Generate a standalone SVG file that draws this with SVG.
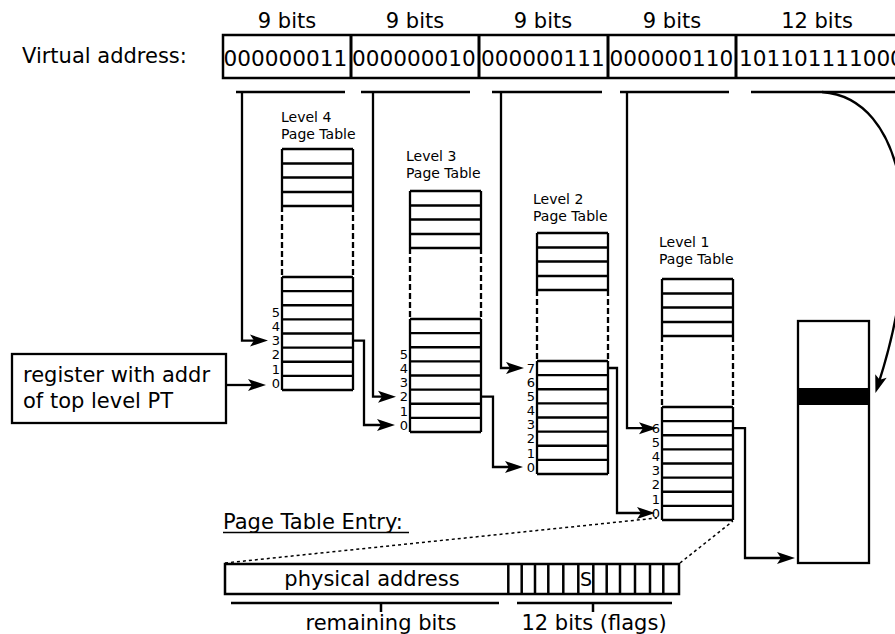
<svg xmlns="http://www.w3.org/2000/svg" width="895" height="634" viewBox="0 0 895 634">
<style>
text{font-family:"DejaVu Sans","Liberation Sans",sans-serif;fill:#000}
.big{font-size:21px}
.bin{font-size:21.6px}
.lbl{font-size:14px}
.num{font-size:13px;text-anchor:end}
.box{fill:#fff;stroke:#000;stroke-width:2.3}
.ln{fill:none;stroke:#000;stroke-width:2.3}
.dsh{fill:none;stroke:#000;stroke-width:2.3;stroke-dasharray:6 3}
.con{fill:none;stroke:#000;stroke-width:2.3}
.arr{marker-end:url(#ah)}
.dot{fill:none;stroke:#000;stroke-width:1.5;stroke-dasharray:3 3}
</style>
<defs>
<marker id="ah" viewBox="-9 -7 20 14" markerWidth="20" markerHeight="14" refX="0" refY="0" orient="auto" markerUnits="userSpaceOnUse">
<path d="M10,0 L-8,-6 L-4,0 L-8,6 Z" fill="#000"/>
</marker>
<g id="tbl">
<rect x="0" y="0" width="71" height="241" fill="#fff" stroke="none"/>
<path class="ln" d="M0,0 H71 M0,14.5 H71 M0,28.5 H71 M0,43 H71 M0,57 H71 M0,128 H71 M0,142.1 H71 M0,156.25 H71 M0,170.4 H71 M0,184.5 H71 M0,198.6 H71 M0,212.75 H71 M0,226.9 H71 M0,241 H71 M0,0 V57 M71,0 V57 M0,128 V241 M71,128 V241"/>
<path class="dsh" d="M0,57 V128 M71,57 V128"/>
</g>
</defs>
<rect width="895" height="634" fill="#fff"/>

<g id="virtual-address">
<text class="big" x="22" y="63">Virtual address:</text>
<text class="big" x="287" y="28" text-anchor="middle">9 bits</text>
<text class="big" x="415" y="28" text-anchor="middle">9 bits</text>
<text class="big" x="543" y="28" text-anchor="middle">9 bits</text>
<text class="big" x="672" y="28" text-anchor="middle">9 bits</text>
<text class="big" x="817" y="28" text-anchor="middle">12 bits</text>
<rect x="223" y="35" width="700" height="43" fill="#fff" stroke="#000" stroke-width="2.5"/>
<path d="M351,35 V78 M479,35 V78 M608,35 V78 M736,35 V78" stroke="#000" stroke-width="3"/>
<text class="bin" x="223.5" y="66">000000011</text>
<text class="bin" x="352" y="66">000000010</text>
<text class="bin" x="481" y="66">000000111</text>
<text class="bin" x="609.5" y="66">000000110</text>
<text class="bin" x="739" y="66">101101111000</text>
<path d="M236,92 H345 M361,92 H470 M492,92 H602 M620,92 H729 M751,92 H900" stroke="#000" stroke-width="2.5"/>
</g>

<g id="register">
<rect class="box" x="12" y="354" width="214" height="69"/>
<text class="big" x="23" y="382">register with addr</text>
<text class="big" x="23" y="408">of top level PT</text>
</g>

<g id="level4">
<text class="lbl" x="281" y="122">Level 4</text>
<text class="lbl" x="281" y="139">Page Table</text>
<use href="#tbl" x="282" y="149"/>
<text class="num" x="280" y="387.7">0</text>
<text class="num" x="280" y="373.5">1</text>
<text class="num" x="280" y="359.4">2</text>
<text class="num" x="280" y="345.3">3</text>
<text class="num" x="280" y="331.2">4</text>
<text class="num" x="280" y="317">5</text>
</g>

<g id="level3">
<text class="lbl" x="406" y="161">Level 3</text>
<text class="lbl" x="406" y="178">Page Table</text>
<use href="#tbl" x="410" y="191"/>
<text class="num" x="408" y="429.7">0</text>
<text class="num" x="408" y="415.5">1</text>
<text class="num" x="408" y="401.4">2</text>
<text class="num" x="408" y="387.3">3</text>
<text class="num" x="408" y="373.2">4</text>
<text class="num" x="408" y="359">5</text>
</g>

<g id="level2">
<text class="lbl" x="533" y="204">Level 2</text>
<text class="lbl" x="533" y="221">Page Table</text>
<use href="#tbl" x="537" y="233"/>
<text class="num" x="535" y="471.7">0</text>
<text class="num" x="535" y="457.5">1</text>
<text class="num" x="535" y="443.4">2</text>
<text class="num" x="535" y="429.3">3</text>
<text class="num" x="535" y="415.2">4</text>
<text class="num" x="535" y="401">5</text>
<text class="num" x="535" y="386.9">6</text>
<text class="num" x="535" y="372.8">7</text>
</g>

<g id="level1">
<text class="lbl" x="659" y="247">Level 1</text>
<text class="lbl" x="659" y="264">Page Table</text>
<use href="#tbl" x="662" y="279"/>
<text class="num" x="660" y="517.7">0</text>
<text class="num" x="660" y="503.5">1</text>
<text class="num" x="660" y="489.4">2</text>
<text class="num" x="660" y="475.3">3</text>
<text class="num" x="660" y="461.2">4</text>
<text class="num" x="660" y="447">5</text>
<text class="num" x="660" y="432.9">6</text>
</g>

<g id="page">
<rect class="box" x="798" y="321" width="71" height="242"/>
<rect x="798" y="388" width="71" height="17" fill="#000"/>
</g>

<g id="pte">
<text class="big" x="223" y="529">Page Table Entry:</text>
<path d="M223,532.5 H409" stroke="#000" stroke-width="1.5"/>
<rect x="225" y="564" width="454" height="30" fill="#fff" stroke="#000" stroke-width="2.5"/>
<path d="M508.3,564 V594 M521.7,564 V594 M535,564 V594 M548.3,564 V594 M563.3,564 V594 M578.3,564 V594 M593.3,564 V594 M606.7,564 V594 M620,564 V594 M635,564 V594 M650,564 V594 M663.3,564 V594" stroke="#000" stroke-width="2.5"/>
<text class="big" x="372" y="586" text-anchor="middle">physical address</text>
<text x="586" y="586" text-anchor="middle" style="font-size:19px">S</text>
<path d="M231,603 H499 M381,603 V612 M517,603 H672 M593,603 V612" stroke="#000" stroke-width="2.5"/>
<text class="big" x="381" y="630" text-anchor="middle">remaining bits</text>
<text class="big" x="594" y="630" text-anchor="middle">12 bits (flags)</text>
</g>

<g id="connectors">
<path class="con arr" d="M242,92 V340.6 H258"/>
<path class="con arr" d="M373,92 V396.7 H386"/>
<path class="con arr" d="M501,92 V368 H514"/>
<path class="con arr" d="M627,92 V428.2 H647"/>
<path class="con arr" d="M226,385 H256"/>
<path class="con arr" d="M352,340.6 H364 V425 H385"/>
<path class="con arr" d="M480,396.7 H493 V467 H513"/>
<path class="con arr" d="M608,368 H617 V513 H645"/>
<path class="con arr" d="M733,428.2 H745 V558 H785"/>
<path class="con arr" d="M822,92 C905,98 928,230 878.5,383.6" stroke-width="2.5"/>
<path class="dot" d="M225,563 L657,518"/>
<path class="dot" d="M680,563 L733,521"/>
</g>
</svg>
